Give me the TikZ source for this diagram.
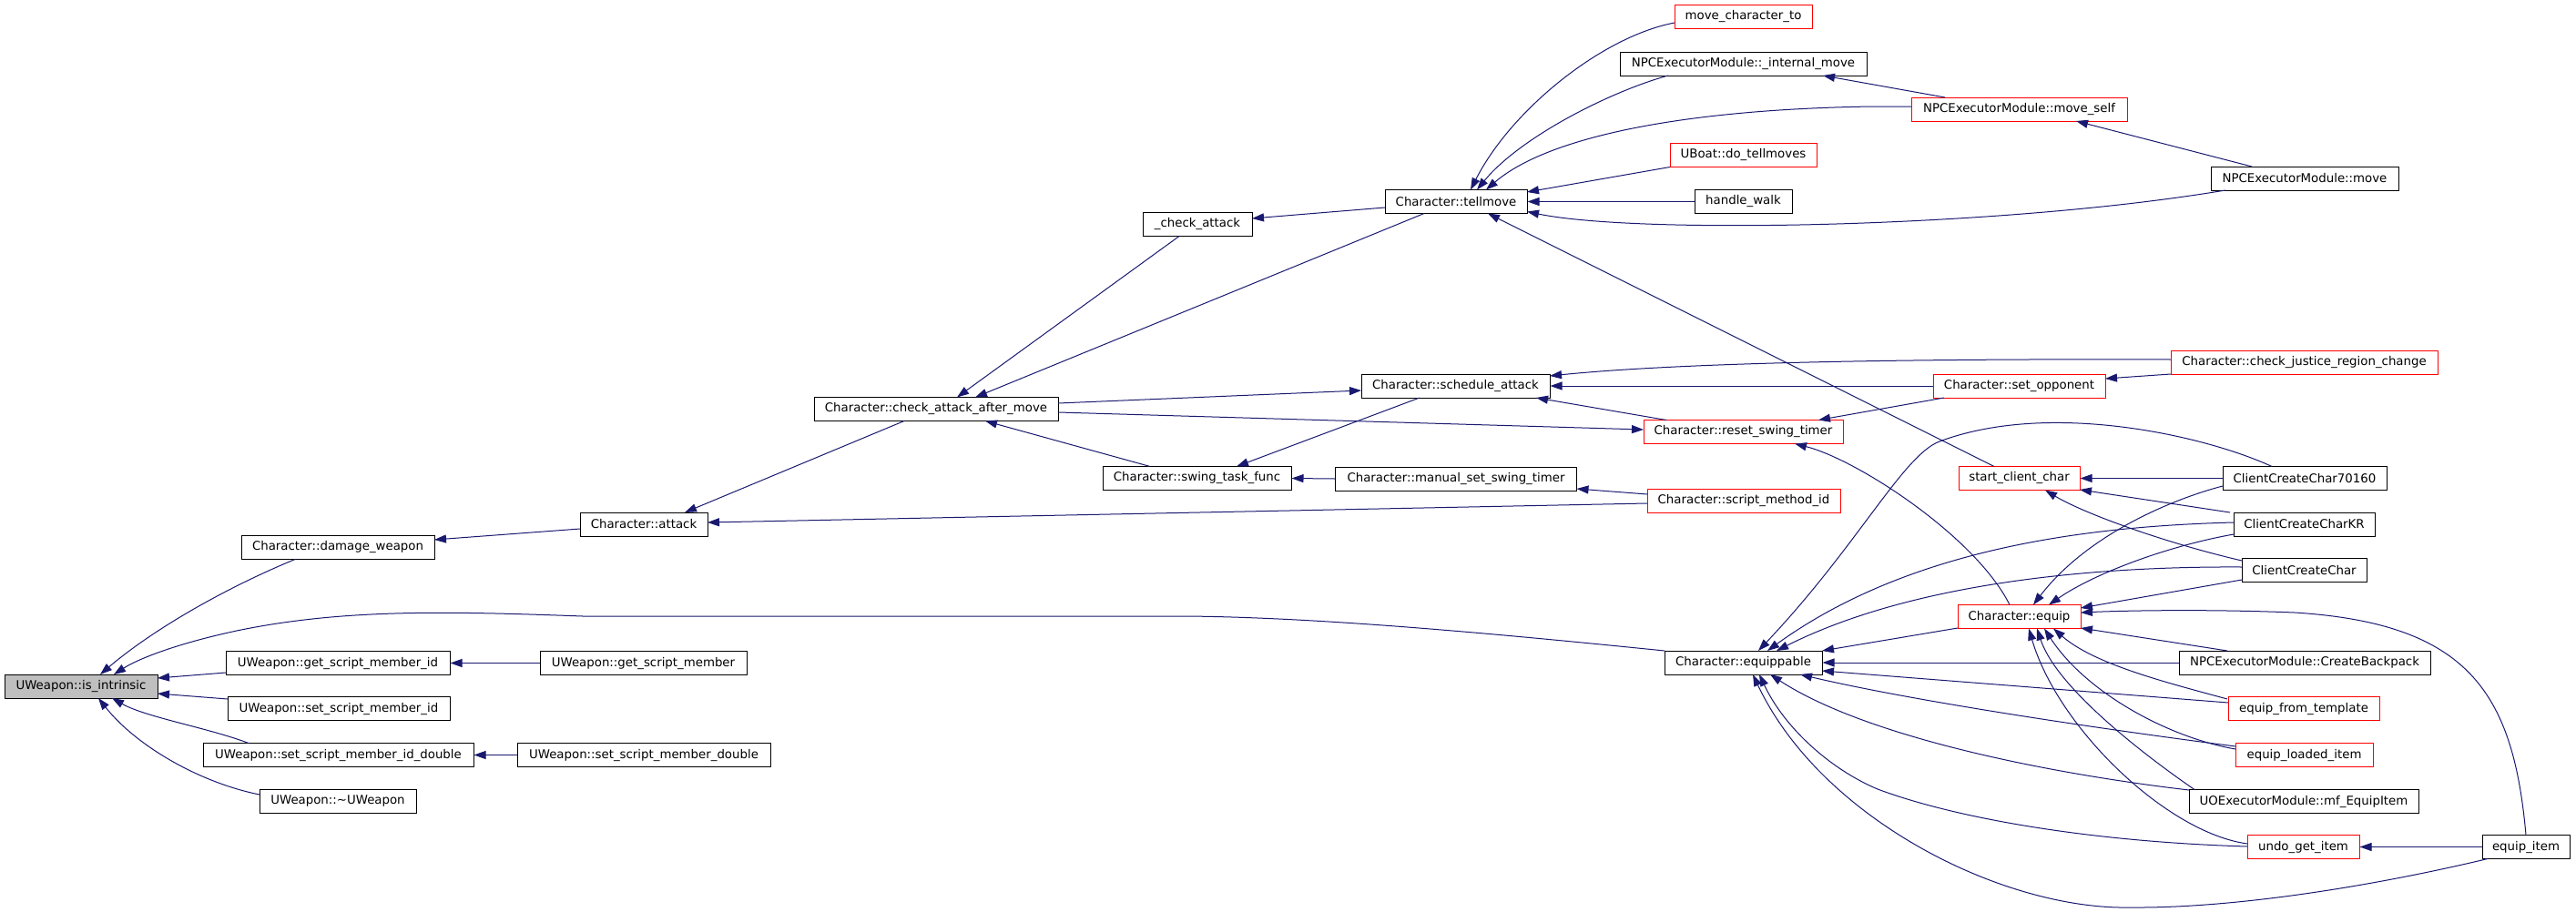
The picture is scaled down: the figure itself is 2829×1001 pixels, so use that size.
\documentclass[tikz,border=0pt]{standalone}
\usepackage{fontspec}
\setmainfont{DejaVu Sans}
\usetikzlibrary{arrows.meta,calc}
\definecolor{edgeblue}{RGB}{25,25,112}
\definecolor{nodegray}{RGB}{191,191,191}
\newcommand{\dxfont}{\fontsize{13.33}{16}\selectfont}
\tikzset{
  fn/.style={draw=black, line width=1pt, fill=white, minimum height=26pt, inner sep=0pt, font=\dxfont},
  redfn/.style={fn, draw=red},
  rootfn/.style={fn, fill=nodegray},
  edge/.style={draw=edgeblue, line width=1pt, -{Triangle[length=13pt,width=9pt]}}
}
\begin{document}
\begin{tikzpicture}[x=1pt,y=-1pt]
\useasboundingbox[fill=white] (0,0) rectangle (2829,1001);
% column 1
\node[rootfn, minimum width=168pt] (isint) at (89,754) {UWeapon::is\_intrinsic};
% column 2
\node[fn, minimum width=212pt] (dmg) at (371,601.5) {Character::damage\_weapon};
\node[fn, minimum width=246pt] (gsmi) at (371,728.5) {UWeapon::get\_script\_member\_id};
\node[fn, minimum width=244pt] (ssmi) at (372,778.5) {UWeapon::set\_script\_member\_id};
\node[fn, minimum width=297pt] (ssmid) at (371.5,829.5) {UWeapon::set\_script\_member\_id\_double};
\node[fn, minimum width=172pt] (dtor) at (371,880) {UWeapon::\textasciitilde UWeapon};
% column 3
\node[fn, minimum width=140pt] (attack) at (707,576) {Character::attack};
\node[fn, minimum width=227pt] (gsm) at (706.5,728.5) {UWeapon::get\_script\_member};
\node[fn, minimum width=278pt] (ssmd) at (707,829.5) {UWeapon::set\_script\_member\_double};
% column 4
\node[fn, minimum width=268pt] (cam) at (1028,449.5) {Character::check\_attack\_after\_move};
% column 5
\node[fn, minimum width=120pt] (chkatk) at (1315,246.5) {\_check\_attack};
\node[fn, minimum width=207pt] (swing) at (1314.5,525.5) {Character::swing\_task\_func};
% column 6
\node[fn, minimum width=156pt] (tellmove) at (1599,221.5) {Character::tellmove};
\node[fn, minimum width=207pt] (sched) at (1598.5,424) {Character::schedule\_attack};
\node[fn, minimum width=265pt] (manual) at (1599,526) {Character::manual\_set\_swing\_timer};
% column 7
\node[redfn, minimum width=151pt] (mct) at (1914.5,18.5) {move\_character\_to};
\node[fn, minimum width=271pt] (intmove) at (1914.5,70) {NPCExecutorModule::\_internal\_move};
\node[redfn, minimum width=161pt] (dotell) at (1914.5,170.5) {UBoat::do\_tellmoves};
\node[fn, minimum width=107pt] (hwalk) at (1914.5,221.5) {handle\_walk};
\node[redfn, minimum width=219pt] (reset) at (1914.5,474.5) {Character::reset\_swing\_timer};
\node[redfn, minimum width=212pt] (smid) at (1915,550.5) {Character::script\_method\_id};
\node[fn, minimum width=173pt] (eqp) at (1914.5,728) {Character::equippable};
% column 8
\node[redfn, minimum width=237pt] (moveself) at (2217.5,120) {NPCExecutorModule::move\_self};
\node[redfn, minimum width=189pt] (setopp) at (2217.5,424) {Character::set\_opponent};
\node[redfn, minimum width=133pt] (scc) at (2217.5,525.5) {start\_client\_char};
\node[redfn, minimum width=135pt] (equip) at (2217.5,677.5) {Character::equip};
% column 9
\node[fn, minimum width=206pt] (npcmove) at (2531,196) {NPCExecutorModule::move};
\node[redfn, minimum width=293pt] (cjrc) at (2530.5,398.5) {Character::check\_justice\_region\_change};
\node[fn, minimum width=180pt] (cc70160) at (2531,525.5) {ClientCreateChar70160};
\node[fn, minimum width=155pt] (cckr) at (2530.5,576) {ClientCreateCharKR};
\node[fn, minimum width=137pt] (ccc) at (2530.5,626.5) {ClientCreateChar};
\node[fn, minimum width=276pt] (backpack) at (2531,728) {NPCExecutorModule::CreateBackpack};
\node[redfn, minimum width=166pt] (eft) at (2530,778.5) {equip\_from\_template};
\node[redfn, minimum width=151pt] (eli) at (2530.5,829.5) {equip\_loaded\_item};
\node[fn, minimum width=252pt] (mfequip) at (2530,880.5) {UOExecutorModule::mf\_EquipItem};
\node[redfn, minimum width=123pt] (ugi) at (2529.5,930.5) {undo\_get\_item};
% column 10
\node[fn, minimum width=96pt] (eqitem) at (2774,930.5) {equip\_item};

% ---- edges (caller -> callee, arrow at callee)
\draw[edge] ($(dmg)+(-47,13)$) .. controls (250,645) and (170,690) .. ($(isint)+(21,-13)$);
\draw[edge] ($(eqp)+(-86.5,-13)$) .. controls (1650,697) and (1450,678) .. (1300,677) -- (640,677)
   .. controls (500,672) and (380,668) .. (260,693) .. controls (190,708) and (150,725) .. ($(isint)+(36,-13)$);
\draw[edge] ($(gsmi)+(-123,10.5)$) -- ($(isint)+(84,-9)$);
\draw[edge] ($(ssmi)+(-122,-10.5)$) -- ($(isint)+(84,8)$);
\draw[edge] ($(ssmid)+(-98.5,-13)$) .. controls (230,800) and (160,788) .. ($(isint)+(34,13)$);
\draw[edge] ($(dtor)+(-86,-7)$) .. controls (220,860) and (150,820) .. ($(isint)+(19,13)$);
\draw[edge] ($(attack)+(-70,5)$) -- ($(dmg)+(106,-8.5)$);
\draw[edge] (gsm.west) -- (gsmi.east);
\draw[edge] (ssmd.west) -- (ssmid.east);
\draw[edge] ($(cam)+(-35,13)$) -- ($(attack)+(45,-13)$);
\draw[edge] ($(smid)+(-106,2.5)$) -- ($(attack)+(70,-2)$);
\draw[edge] ($(chkatk)+(-20,13)$) -- ($(cam)+(23,-13)$);
\draw[edge] ($(tellmove)+(-35,13)$) -- ($(cam)+(43,-13)$);
\draw[edge] ($(swing)+(-51.5,-13)$) -- ($(cam)+(54,13)$);
\draw[edge] ($(cam)+(134,-6.5)$) -- ($(sched)+(-103.5,5)$);
\draw[edge] ($(cam)+(134,3.5)$) -- ($(reset)+(-109.5,-2.5)$);
\draw[edge] ($(sched)+(-39.5,13)$) -- ($(swing)+(43.5,-13)$);
\draw[edge] ($(cjrc)+(-146.5,-3.5)$) .. controls (2100,394) and (1850,398) .. ($(sched)+(103.5,-11)$);
\draw[edge] (setopp.west) -- (sched.east);
\draw[edge] ($(reset)+(-84.5,-13)$) -- ($(sched)+(88.5,13)$);
\draw[edge] (manual.west) -- (swing.east);
\draw[edge] ($(smid)+(-106,-7.5)$) -- ($(manual)+(132.5,11)$);
\draw[edge] ($(setopp)+(-82.5,13)$) -- ($(reset)+(82.5,-13)$);
\draw[edge] ($(cjrc)+(-146.5,12.5)$) -- ($(setopp)+(94.5,-8)$);
\draw[edge] ($(equip)+(-10.5,-13)$) .. controls (2170,590) and (2040,505) .. ($(reset)+(56.5,13)$);
% tellmove callers
\draw[edge] ($(mct)+(-75.5,6.5)$) .. controls (1760,40) and (1660,120) .. ($(tellmove)+(16,-13)$);
\draw[edge] ($(intmove)+(-82.5,13)$) .. controls (1770,100) and (1670,150) .. ($(tellmove)+(23,-13)$);
\draw[edge] ($(moveself)+(-118.5,-3)$) -- (2057,117) .. controls (1850,120) and (1700,150) .. ($(tellmove)+(33,-13)$);
\draw[edge] ($(dotell)+(-80.5,13)$) -- ($(tellmove)+(78,-10.5)$);
\draw[edge] (hwalk.west) -- (tellmove.east);
\draw[edge] ($(npcmove)+(-87,13)$) .. controls (2200,250) and (1800,258) .. ($(tellmove)+(78,11)$);
\draw[edge] ($(scc)+(-27.5,-13)$) -- ($(tellmove)+(35,13)$);
\draw[edge] ($(moveself)+(-81.5,-13)$) -- ($(intmove)+(87.5,13)$);
\draw[edge] ($(npcmove)+(-58,-13)$) -- ($(moveself)+(62.5,13)$);
\draw[edge] ($(tellmove)+(-78,6.5)$) -- ($(chkatk)+(60,-6.5)$);
% start_client_char callers
\draw[edge] (cc70160.west) -- (scc.east);
\draw[edge] ($(cckr)+(-81.5,-13)$) -- ($(scc)+(66.5,12.5)$);
\draw[edge] ($(ccc)+(-68.5,-10.5)$) .. controls (2380,597) and (2290,565) .. ($(scc)+(28.5,13)$);
% equippable / equip callers
\draw[edge] ($(cc70160)+(-36,-13)$) .. controls (2420,478) and (2250,440) .. (2130,485)
   .. controls (2090,500) and (2040,600) .. ($(eqp)+(16.5,-13)$);
\draw[edge] ($(cckr)+(-77.5,-2)$) .. controls (2300,578) and (2100,600) .. ($(eqp)+(26.5,-13)$);
\draw[edge] ($(ccc)+(-68.5,-3.5)$) .. controls (2300,622) and (2100,640) .. ($(eqp)+(36.5,-13)$);
\draw[edge] ($(equip)+(-67.5,12.5)$) -- ($(eqp)+(86.5,-13)$);
\draw[edge] ($(cc70160)+(-90,8.5)$) .. controls (2380,550) and (2290,590) .. ($(equip)+(15.5,-13)$);
\draw[edge] ($(cckr)+(-77.5,11)$) .. controls (2380,600) and (2300,630) .. ($(equip)+(32.5,-13)$);
\draw[edge] ($(ccc)+(-68.5,10.5)$) -- ($(equip)+(67.5,-9.5)$);
\draw[edge] ($(eqitem)+(0,-13)$) .. controls (2760,760) and (2710,685) .. (2520,673)
   .. controls (2420,669) and (2330,671) .. ($(equip)+(67.5,-4.5)$);
\draw[edge] ($(backpack)+(-85,-13)$) -- ($(equip)+(67.5,12.5)$);
\draw[edge] (backpack.west) -- (eqp.east);
\draw[edge] ($(eft)+(-83,-6.5)$) -- ($(eqp)+(86.5,9)$);
\draw[edge] ($(eft)+(-84,-10.5)$) .. controls (2380,750) and (2300,730) .. ($(equip)+(37.5,13)$);
\draw[edge] ($(eli)+(-75.5,-9.5)$) .. controls (2300,800) and (2100,770) .. ($(eqp)+(62.5,13)$);
\draw[edge] ($(eli)+(-75.5,-6.5)$) .. controls (2380,810) and (2290,760) .. ($(equip)+(27.5,13)$);
\draw[edge] ($(mfequip)+(-126,-12.5)$) .. controls (2250,850) and (2050,810) .. ($(eqp)+(29.5,13)$);
\draw[edge] ($(mfequip)+(-120,-13)$) .. controls (2370,840) and (2260,760) .. ($(equip)+(19.5,13)$);
\draw[edge] ($(ugi)+(-61.5,-0.5)$) .. controls (2300,925) and (2150,900) .. (2062,867)
   .. controls (2010,845) and (1960,800) .. ($(eqp)+(17.5,13)$);
\draw[edge] ($(ugi)+(-61.5,-3.5)$) .. controls (2380,915) and (2260,800) .. ($(equip)+(10.5,13)$);
\draw[edge] (eqitem.west) -- (ugi.east);
\draw[edge] ($(eqitem)+(-42,13)$) .. controls (2600,975) and (2450,998) .. (2340,997)
   .. controls (2200,1000) and (2000,900) .. ($(eqp)+(10.5,13)$);
\end{tikzpicture}
\end{document}
